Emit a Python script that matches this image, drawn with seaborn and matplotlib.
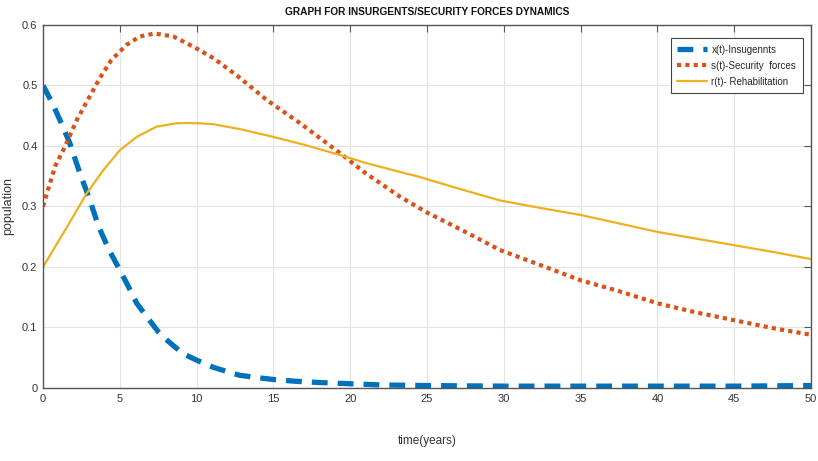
import numpy as np
import pandas as pd
import matplotlib
matplotlib.use("Agg")
import matplotlib.pyplot as plt
import seaborn as sns

# Insurgents x(t)
t_x = [0, 0.56, 1.1, 1.74, 2.4, 3.06, 3.6, 4.3, 5.0, 5.45, 6.1, 6.75, 7.5, 8.16,
       9.1, 10, 11.1, 12, 12.8, 14, 15, 16.5, 18, 20, 22, 25, 30, 35, 40, 45, 50]
x_vals = [0.5, 0.473, 0.443, 0.405, 0.355, 0.31, 0.268, 0.228, 0.195, 0.173, 0.14,
          0.118, 0.093, 0.077, 0.057, 0.046, 0.034, 0.027, 0.021, 0.017, 0.014,
          0.011, 0.009, 0.007, 0.005, 0.004, 0.003, 0.003, 0.003, 0.003, 0.004]

# Security forces s(t)
t_s = [0, 0.78, 1.43, 2.2, 3.04, 3.69, 4.45, 5.43, 6.3, 7.28, 8.49, 9.8, 11.1, 12.6,
       14.57, 16.74, 19.35, 21, 23.25, 25, 27.5, 29.75, 32.5, 35, 37.5, 40, 42.5,
       45, 47.5, 50]
s_vals = [0.3, 0.366, 0.399, 0.443, 0.482, 0.512, 0.542, 0.567, 0.581, 0.586, 0.581,
          0.564, 0.545, 0.517, 0.476, 0.4375, 0.388, 0.355, 0.316, 0.29, 0.258,
          0.228, 0.202, 0.178, 0.16, 0.14, 0.125, 0.112, 0.099, 0.088]

# Rehabilitation r(t)
t_r = [0, 1.3, 2.85, 3.93, 5.0, 6.1, 7.4, 8.7, 9.35, 10.2, 11.1, 12.8, 15, 17,
       19.35, 21, 23.25, 24.5, 27, 29.75, 32.5, 35, 37.5, 40, 42.5, 45, 47.5, 50]
r_vals = [0.2, 0.255, 0.322, 0.36, 0.393, 0.415, 0.432, 0.4375, 0.438, 0.4375,
          0.436, 0.428, 0.415, 0.402, 0.385, 0.372, 0.357, 0.349, 0.33, 0.31,
          0.297, 0.286, 0.272, 0.258, 0.247, 0.236, 0.225, 0.213]

labels = ["x(t)-Insugennts", "s(t)-Security  forces", "r(t)- Rehabilitation"]
x_ticks = [0, 5, 10, 15, 20, 25, 30, 35, 40, 45, 50]
y_ticks = [0, 0.1, 0.2, 0.3, 0.4, 0.5, 0.6]
y_tick_labels = ["0", "0.1", "0.2", "0.3", "0.4", "0.5", "0.6"]

sns.set_theme(style="white")
plt.rcParams["font.family"] = ["Liberation Sans Narrow", "Liberation Sans", "DejaVu Sans"]

fig = plt.figure(figsize=(8.18, 4.61), dpi=100)
ax = fig.add_axes([0.0526, 0.1584, 0.9388, 0.7874])

df_x = pd.DataFrame({"t": t_x, "v": x_vals})
df_s = pd.DataFrame({"t": t_s, "v": s_vals})
df_r = pd.DataFrame({"t": t_r, "v": r_vals})

sns.lineplot(data=df_x, x="t", y="v", ax=ax, color="#0072BD", linewidth=3.8,
             linestyle=(0, (3.0, 1.9)), label=labels[0], sort=False)
sns.lineplot(data=df_s, x="t", y="v", ax=ax, color="#D95319", linewidth=3.0,
             linestyle=(0, (1, 1)), label=labels[1], sort=False)
sns.lineplot(data=df_r, x="t", y="v", ax=ax, color="#EDB120", linewidth=1.6,
             linestyle="-", label=labels[2], sort=False)

ax.set_xlim(0, 50)
ax.set_ylim(0, 0.6)
ax.set_xticks(x_ticks)
ax.set_xticklabels([str(v) for v in x_ticks])
ax.set_yticks(y_ticks)
ax.set_yticklabels(y_tick_labels)
ax.grid(True, color="#e3e3e3", linewidth=0.8)
ax.set_axisbelow(True)
for sp in ax.spines.values():
    sp.set_color("#555555")
    sp.set_linewidth(1.0)
ax.tick_params(axis="both", direction="in", length=5, width=0.8, color="#555555",
               labelsize=8, labelcolor="#333333", top=True, right=True, pad=4)

ax.set_title("GRAPH FOR INSURGENTS/SECURITY FORCES DYNAMICS", fontsize=7.3,
             fontweight="bold", pad=7, color="#111111")
ax.set_xlabel("time(years)", fontsize=8.5, color="#333333")
ax.xaxis.set_label_coords(0.5, -0.13)
ax.set_ylabel("population", fontsize=9, color="#333333")
ax.yaxis.set_label_coords(-0.037, 0.5)

leg = ax.legend(loc="upper right", bbox_to_anchor=(0.9896, 0.964), fontsize=7,
                frameon=True, fancybox=False, framealpha=1, edgecolor="#444444",
                handlelength=3.0, borderpad=0.7, labelspacing=0.6, handletextpad=0.5,
                borderaxespad=0)
leg.get_frame().set_linewidth(0.8)

fig.savefig("out.png", dpi=100)
